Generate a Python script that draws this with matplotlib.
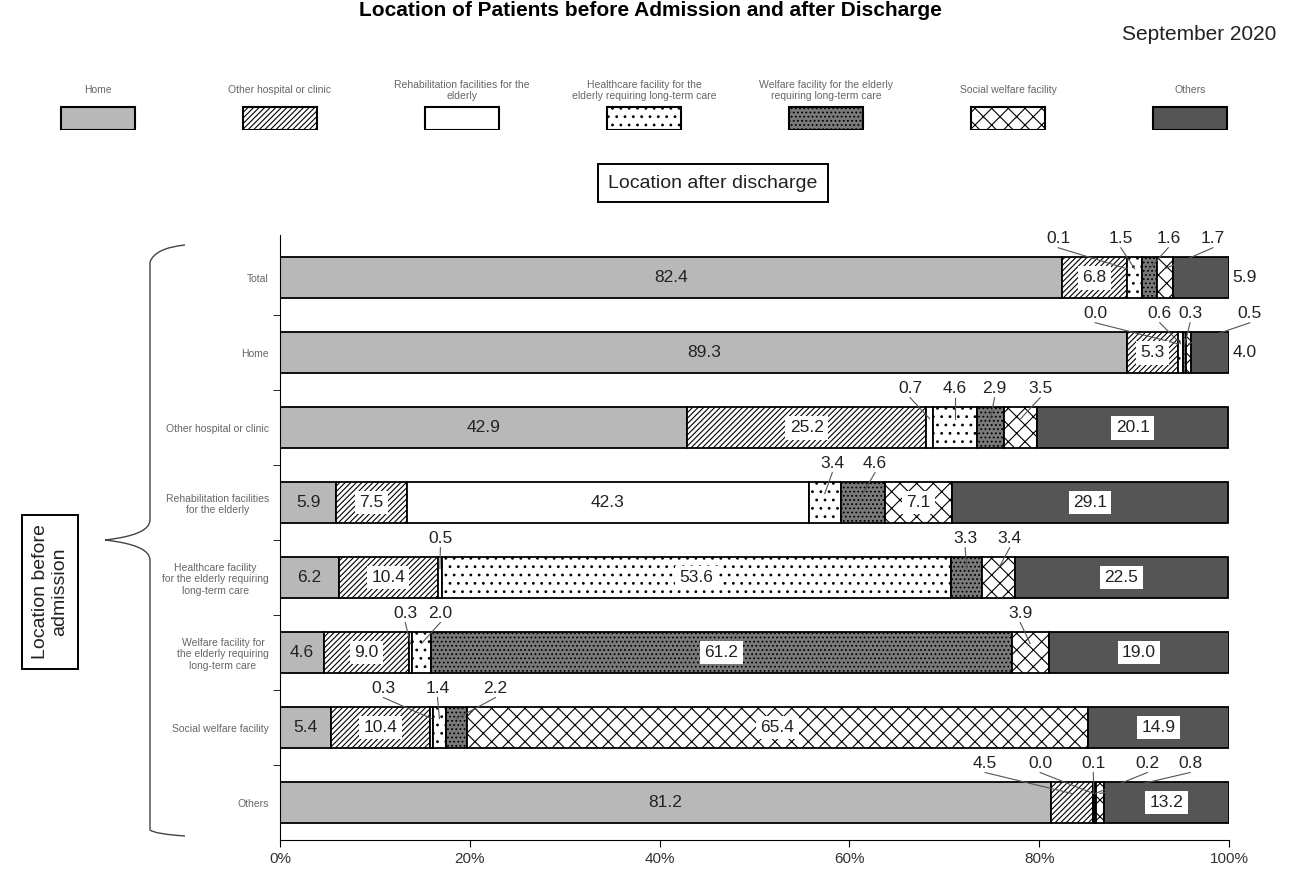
import numpy as np
import matplotlib.pyplot as plt
from matplotlib.path import Path
from matplotlib.patches import PathPatch

plt.rcParams['font.family'] = ['Liberation Sans', 'DejaVu Sans']
plt.rcParams['hatch.linewidth'] = 0.8

# rows: location before admission (top to bottom)
rows = ["Total", "Home", "Other hospital or clinic",
        "Rehabilitation facilities\nfor the elderly",
        "Healthcare facility\nfor the elderly requiring\nlong-term care",
        "Welfare facility for\nthe elderly requiring\nlong-term care",
        "Social welfare facility", "Others"]

# series: location after discharge
series = ["Home", "Other hospital or clinic",
          "Rehabilitation facilities for the\nelderly",
          "Healthcare facility for the\nelderly requiring long-term care",
          "Welfare facility for the elderly\nrequiring long-term care",
          "Social welfare facility", "Others"]

home_after = [82.4, 89.3, 42.9, 5.9, 6.2, 4.6, 5.4, 81.2]
hospital_after = [6.8, 5.3, 25.2, 7.5, 10.4, 9.0, 10.4, 4.5]
rehab_after = [0.1, 0.0, 0.7, 42.3, 0.5, 0.3, 0.3, 0.0]
healthcare_after = [1.5, 0.6, 4.6, 3.4, 53.6, 2.0, 1.4, 0.1]
welfare_after = [1.6, 0.3, 2.9, 4.6, 3.3, 61.2, 2.2, 0.2]
social_after = [1.7, 0.5, 3.5, 7.1, 3.4, 3.9, 65.4, 0.8]
others_after = [5.9, 4.0, 20.1, 29.1, 22.5, 19.0, 14.9, 13.2]

values = [home_after, hospital_after, rehab_after, healthcare_after,
          welfare_after, social_after, others_after]

# bar styles per series
faces = ["#b8b8b8", "white", "white", "white", "#7a7a7a", "white", "#555555"]
hatches = [None, "//////", None, "..", "....", "xx", None]

# small segments labelled above the bar: row -> {segment: x of label}
callouts = {
    0: {2: 82.0, 3: 88.6, 4: 93.6, 5: 98.3},
    1: {2: 85.9, 3: 92.7, 4: 95.9, 5: 102.2},
    2: {2: 66.4, 3: 71.1, 4: 75.3, 5: 80.1},
    3: {3: 58.2, 4: 62.7},
    4: {2: 16.9, 4: 72.2, 5: 76.9},
    5: {2: 13.2, 3: 16.9, 5: 78.0},
    6: {2: 10.9, 3: 16.6, 4: 22.7},
    7: {1: 74.3, 2: 80.1, 3: 85.7, 4: 91.4, 5: 95.9},
}
outside = {(0, 6), (1, 6)}

W, H = 1290, 876
fig = plt.figure(figsize=(W / 100, H / 100), dpi=100)

def fx(px):
    return px / W

def fy(py):
    return 1 - py / H

ax = fig.add_axes([fx(280), fy(840), fx(1229 - 280), (840 - 235) / H])

ypos = np.arange(len(rows))
bar_h = 0.55
left = np.zeros(len(rows))
for i, vals in enumerate(values):
    vals = np.array(vals)
    ax.barh(ypos, vals, left=left, height=bar_h, color=faces[i],
            hatch=hatches[i], edgecolor="black", linewidth=1.3)
    for r in range(len(rows)):
        v = vals[r]
        cx = left[r] + v / 2
        txt = f"{v:.1f}"
        if r in callouts and i in callouts[r]:
            tx = callouts[r][i]
            ty = r - 0.52
            ax.text(tx, ty, txt, ha="center", va="center", fontsize=12.5, color="#222")
            ax.plot([tx, cx], [ty + 0.12, r - 0.12], color="#555", lw=0.8,
                    clip_on=False)
        elif (r, i) in outside:
            ax.text(100.4, r, txt, ha="left", va="center", fontsize=12.5, color="#222")
        else:
            if i == 0:
                ax.text(cx, r, txt, ha="center", va="center", fontsize=12.5, color="#222")
            else:
                ax.text(cx, r, txt, ha="center", va="center", fontsize=12.5, color="#222",
                        zorder=5,
                        bbox=dict(boxstyle="square,pad=0.25", fc="white", ec="none"))
    left += vals

ax.set_xlim(0, 100)
ax.set_ylim(7.5, -0.57)
ax.set_xticks(np.arange(0, 101, 20))
ax.set_xticklabels([f"{t}%" for t in range(0, 101, 20)], fontsize=11, color="#333")
ax.set_yticks(ypos)
ax.set_yticklabels(rows, fontsize=7.5, color="#666", multialignment="center")
ax.set_yticks(np.arange(0.5, 7, 1), minor=True)
ax.tick_params(axis="y", which="major", length=0, pad=8)
ax.tick_params(axis="y", which="minor", length=5, direction="out")
ax.tick_params(axis="x", length=5, direction="out")
for s in ["top", "right"]:
    ax.spines[s].set_visible(False)

# legend row: label above each swatch
lax = fig.add_axes([fx(7), fy(130), fx(1274), 55 / H])
for i in range(len(series)):
    lax.bar(i, 0.42, width=0.41, bottom=0, color=faces[i], hatch=hatches[i],
            edgecolor="black", linewidth=1.5)
    lax.text(i, 0.72, series[i], ha="center", va="center", fontsize=7.5, color="#666")
lax.set_xlim(-0.5, 6.5)
lax.set_ylim(0, 1)
lax.axis("off")

fig.text(fx(650), fy(1), "Location of Patients before Admission and after Discharge",
         ha="center", va="top", fontsize=15, fontweight="bold")
fig.text(fx(1276), fy(35), "September 2020", ha="right", va="center", fontsize=15, color="#222")
fig.text(fx(713), fy(183), "Location after discharge", ha="center", va="center",
         fontsize=14, color="#222",
         bbox=dict(boxstyle="square,pad=0.55", fc="white", ec="black", lw=1.4))
fig.text(fx(50), fy(592), "Location before\nadmission", ha="center", va="center",
         rotation=90, fontsize=14, color="#222",
         bbox=dict(boxstyle="square,pad=0.5", fc="white", ec="black", lw=1.4))

# curly brace to the left of the row labels
pts = [(185, 245), (155, 248), (150, 262), (150, 300),
       (150, 520), (150, 535), (105, 540),
       (150, 545), (150, 560), (150, 800),
       (150, 830), (155, 834), (185, 836)]
codes = [Path.MOVETO, Path.CURVE3, Path.CURVE3, Path.LINETO,
         Path.LINETO, Path.CURVE3, Path.CURVE3,
         Path.CURVE3, Path.CURVE3, Path.LINETO,
         Path.LINETO, Path.CURVE3, Path.CURVE3]
pts = [(fx(x), fy(y)) for x, y in pts]
fig.add_artist(PathPatch(Path(pts, codes), fc="none", ec="#444", lw=1.0,
                         transform=fig.transFigure))

fig.savefig("out.png", dpi=100)
